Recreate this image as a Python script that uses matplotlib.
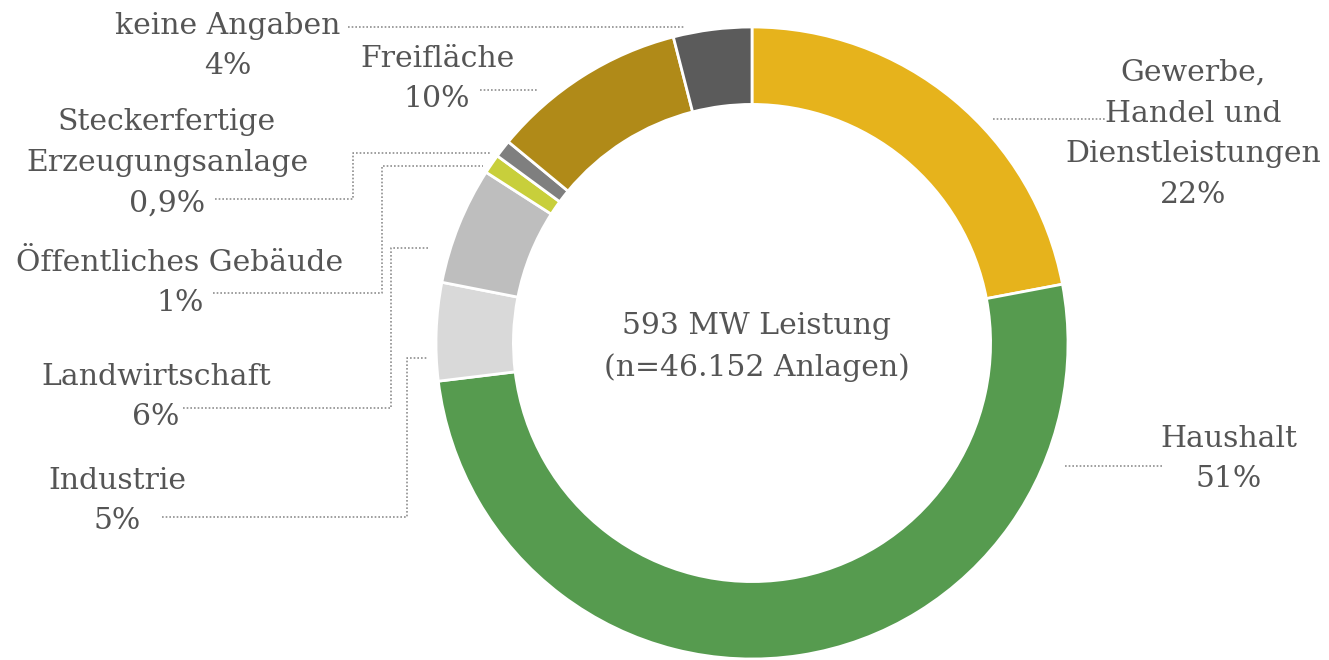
import matplotlib
matplotlib.use("Agg")
import matplotlib.pyplot as plt

# data (clockwise from 12 o'clock)
categories = ["Gewerbe,\nHandel und\nDienstleistungen", "Haushalt", "Industrie",
              "Landwirtschaft", "Öffentliches Gebäude", "Steckerfertige\nErzeugungsanlage",
              "Freifläche", "keine Angaben"]
shares = [22, 51, 5, 6, 1, 0.9, 10, 4]
share_labels = ["22%", "51%", "5%", "6%", "1%", "0,9%", "10%", "4%"]
colors = ["#e6b31c", "#569b4f", "#d9d9d9", "#bebebe", "#c8cf3b", "#7f7f7f", "#b08a18", "#5b5b5b"]
center_text = "593 MW Leistung\n(n=46.152 Anlagen)"

W, H = 1329, 660
TXT = "#555555"
LINE = "#8f8f8f"

# label anchor (center of text block, image px) and leader polyline, image px
label_pos = [(1193, 134), (1229, 459), (117, 501), (156, 397), (180, 283), (167, 163), (437, 79), (228, 46)]
leaders = [
    [(993, 119), (1105, 119)],
    [(1065, 466), (1163, 466)],
    [(162, 517), (407, 517), (407, 358), (427, 358)],
    [(183, 408), (391, 408), (391, 248), (430, 248)],
    [(213, 293), (382, 293), (382, 166), (483, 166)],
    [(215, 199), (353, 199), (353, 153), (490, 153)],
    [(480, 90), (537, 90)],
    [(348, 27), (685, 27)],
]

plt.rcParams['font.family'] = ['DejaVu Serif']

fig = plt.figure(figsize=(W / 100, H / 100), dpi=100)
ax = fig.add_axes([0, 0, 1, 1])

cx, cy, r = 752, H - 343, 316
ax.pie(shares, colors=colors, startangle=90, counterclock=False,
       center=(cx, cy), radius=r,
       wedgeprops=dict(width=r * 0.245, edgecolor="white", linewidth=2))

for name, pct, (lx, ly) in zip(categories, share_labels, label_pos):
    ax.text(lx, H - ly, name + "\n" + pct, ha="center", va="center",
            fontsize=21.5, color=TXT, linespacing=1.58)

for pts in leaders:
    xs = [p[0] for p in pts]
    ys = [H - p[1] for p in pts]
    ax.plot(xs, ys, color=LINE, lw=1.2, ls=(0, (1, 1.2)))

ax.text(757, H - 347, center_text, ha="center", va="center",
        fontsize=21.5, color=TXT, linespacing=1.58)

ax.set_xlim(0, W)
ax.set_ylim(0, H)
ax.set_aspect("equal")
ax.axis("off")

fig.savefig("out.png", dpi=100, facecolor="white")
